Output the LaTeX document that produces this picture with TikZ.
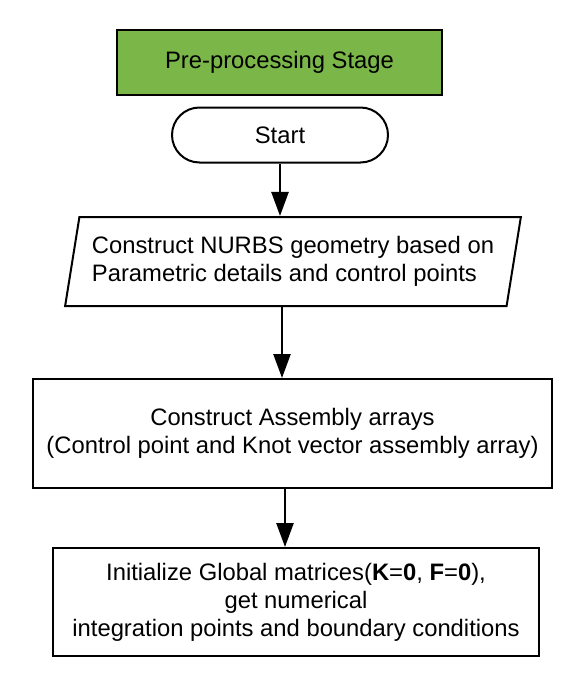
\documentclass[tikz,border=0pt]{standalone}
\usepackage{fontspec}
\setmainfont{Liberation Sans}
\usetikzlibrary{shapes.geometric,shapes.misc,arrows.meta}
\definecolor{stagegreen}{RGB}{122,182,72}

\begin{document}
\begin{tikzpicture}[x=1pt,y=-1pt,
  every node/.style={font=\fontsize{23.8}{28}\selectfont, align=center, inner sep=0pt},
  box/.style={draw, line width=2pt, rectangle},
  flow/.style={line width=2.5pt, -{Triangle[length=24pt,width=17pt]}}]
  \useasboundingbox (0,0) rectangle (583,699);
  \node[box, fill=stagegreen, minimum width=325pt, minimum height=65pt] (stage) at (279.5,62) {Pre-processing Stage};
  \node[draw, line width=2pt, rounded rectangle, minimum width=216pt, minimum height=55pt] (start) at (280,135) {Start};
  \node[draw, line width=2pt, trapezium, trapezium left angle=75, trapezium right angle=105,
    trapezium stretches=true, minimum width=458pt, minimum height=89pt, align=left] (geom) at (293,261.5)
    {Construct NURBS geometry based on\\Parametric details and control points};
  \node[box, minimum width=519pt, minimum height=109pt] (arrays) at (292.5,433.5)
    {Construct Assembly arrays\\ (Control point and Knot vector assembly array)};
  \node[box, minimum width=486pt, minimum height=108pt] (init) at (296,602)
    {Initialize Global matrices(\textbf{K}=\textbf{0}, \textbf{F}=\textbf{0}),\\get numerical\\ integration points and boundary conditions};
  \coordinate (c2) at (282,0);
  \coordinate (c3) at (285,0);
  \draw[flow] (start.south) -- (start.south |- geom.north);
  \draw[flow] (c2 |- geom.south) -- (c2 |- arrays.north);
  \draw[flow] (c3 |- arrays.south) -- (c3 |- init.north);
\end{tikzpicture}
\end{document}
